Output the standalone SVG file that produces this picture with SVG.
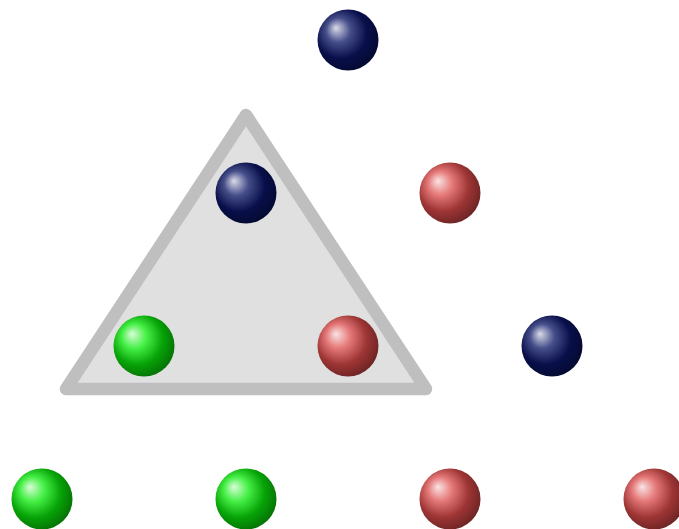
<svg xmlns="http://www.w3.org/2000/svg" width="679" height="529" viewBox="0 0 679 529">
<defs>
<radialGradient id="gNavy" cx="0.5" cy="0.5" r="1" fx="0.3" fy="0.3">
<stop offset="0" stop-color="#dadce8"/>
<stop offset="0.2" stop-color="#474f8b"/>
<stop offset="0.42" stop-color="#080f4a"/>
<stop offset="0.6" stop-color="#050a32"/>
<stop offset="1" stop-color="#000000"/>
</radialGradient>
<radialGradient id="gRed" cx="0.5" cy="0.5" r="1" fx="0.3" fy="0.3">
<stop offset="0" stop-color="#fae4e4"/>
<stop offset="0.2" stop-color="#e57878"/>
<stop offset="0.42" stop-color="#9e3535"/>
<stop offset="0.6" stop-color="#702525"/>
<stop offset="1" stop-color="#000000"/>
</radialGradient>
<radialGradient id="gGreen" cx="0.5" cy="0.5" r="1" fx="0.3" fy="0.3">
<stop offset="0" stop-color="#dafcda"/>
<stop offset="0.2" stop-color="#47f047"/>
<stop offset="0.42" stop-color="#07a407"/>
<stop offset="0.6" stop-color="#057505"/>
<stop offset="1" stop-color="#000000"/>
</radialGradient>
</defs>
<style>
.tri{fill:#e0e0e0;stroke:#bfbfbf;stroke-width:12.5;stroke-linejoin:round}
.navy{fill:url(#gNavy)}
.red{fill:url(#gRed)}
.green{fill:url(#gGreen)}
</style>
<rect width="679" height="529" fill="#ffffff"/>
<polygon id="triangle" class="tri" points="246,115 66,389 426,389"/>
<g id="connectors"/>
<g id="n1"><circle class="navy" cx="348" cy="40" r="30.5"/></g>
<g id="n2"><circle class="navy" cx="246" cy="193" r="30.5"/></g>
<g id="n3"><circle class="red" cx="450" cy="193" r="30.5"/></g>
<g id="n4"><circle class="green" cx="144" cy="346" r="30.5"/></g>
<g id="n5"><circle class="red" cx="348" cy="346" r="30.5"/></g>
<g id="n6"><circle class="navy" cx="552" cy="346" r="30.5"/></g>
<g id="n7"><circle class="green" cx="42" cy="499" r="30.5"/></g>
<g id="n8"><circle class="green" cx="246" cy="499" r="30.5"/></g>
<g id="n9"><circle class="red" cx="450" cy="499" r="30.5"/></g>
<g id="n10"><circle class="red" cx="654" cy="499" r="30.5"/></g>
</svg>
